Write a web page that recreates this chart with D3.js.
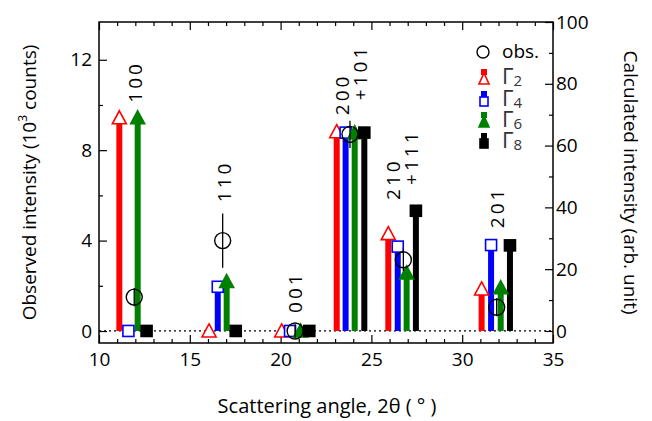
<!DOCTYPE html>
<html><head><meta charset="utf-8">
<script src="https://cdn.jsdelivr.net/npm/d3@7/dist/d3.min.js"></script>
<style>
body{margin:0;background:#fff;}
svg{display:block;}
text{font-family:"Open Sans","Noto Sans",sans-serif;}
</style></head><body>
<svg id="c" width="652" height="421"></svg>
<script>
// ---- data ----
const reflections = ["100","110","001","200+101","210+111","201"];
// bar positions (2θ, deg) per series
const g2x = [11.12, 16.06, 20.06, 23.09, 25.93, 31.07];
const g4x = [11.62, 16.54, 20.52, 23.58, 26.45, 31.59];
const g6x = [12.13, 17.03, 21.10, 24.08, 26.94, 32.12];
const g8x = [12.62, 17.53, 21.58, 24.61, 27.45, 32.63];
// calculated intensities (arb. unit, right axis)
const g2 = [69, 0, 0, 64.5, 31.5, 13.6];
const g4 = [0, 14.3, 0, 64.2, 27.3, 27.8];
const g6 = [69, 16.0, 0, 64.2, 18.8, 14.0];
const g8 = [0, 0, 0, 64.2, 38.9, 27.7];
// observed intensities (10^3 counts, left axis)
const obsX = [11.94, 16.81, 20.80, 23.82, 26.76, 31.90];
const obs = [1.5, 4.0, 0.0, 8.7, 3.15, 1.05];
const obsErr = [0.4, 1.2, 0.3, 0.6, 0.5, 0.4];
// label positions (2θ) and heights (left axis) for reflection labels
const labelX = [12.0, 16.9, 20.8, 23.9, 26.7, 31.9];
const labelY = [10.1, 5.7, 0.8, 9.55, 5.8, 4.55];

const xTicks = [10,15,20,25,30,35];
const yLTicks = [0,4,8,12];
const yRTicks = [0,20,40,60,80,100];

// ---- layout ----
const svg = d3.select("#c");
const L=99, R=553, T=22, B=343;
const x = d3.scaleLinear().domain([10,35]).range([L,R]);
const yL = d3.scaleLinear().domain([-0.53,13.67]).range([B,T]);
const yR = d3.scaleLinear().domain([-3.9,100]).range([B,T]);

const fs = 19;
const ax = svg.append("g");
function ticks(g){ g.selectAll("path").remove(); }
// bottom
ax.append("g").attr("transform",`translate(0,${B})`)
  .call(d3.axisTop(x).tickValues(d3.range(10,36,1)).tickSize(4).tickFormat(""))
  .call(ticks).selectAll("line").attr("stroke","#000").attr("stroke-width",1.2)
  .attr("y2",d=>d%5===0?-8:-4);
ax.append("g").attr("transform",`translate(0,${B})`)
  .call(d3.axisBottom(x).tickValues(xTicks).tickSize(0).tickPadding(10))
  .call(ticks).selectAll("text").attr("font-size",fs).attr("fill","#000")
  .attr("font-family","'Open Sans',sans-serif");
// top
ax.append("g").attr("transform",`translate(0,${T})`)
  .call(d3.axisBottom(x).tickValues(d3.range(10,36,1)).tickSize(4).tickFormat(""))
  .call(ticks).selectAll("line").attr("stroke","#000").attr("stroke-width",1.2)
  .attr("y2",d=>d%5===0?8:4);
// left
ax.append("g").attr("transform",`translate(${L},0)`)
  .call(d3.axisRight(yL).tickValues(d3.range(0,14,2)).tickSize(4).tickFormat(""))
  .call(ticks).selectAll("line").attr("stroke","#000").attr("stroke-width",1.2)
  .attr("x2",d=>d%4===0?8:4);
ax.append("g").attr("transform",`translate(${L},0)`)
  .call(d3.axisLeft(yL).tickValues(yLTicks).tickSize(0).tickPadding(7))
  .call(ticks).selectAll("text").attr("font-size",fs).attr("fill","#000")
  .attr("font-family","'Open Sans',sans-serif");
// right
ax.append("g").attr("transform",`translate(${R},0)`)
  .call(d3.axisLeft(yR).tickValues(d3.range(0,101,10)).tickSize(4).tickFormat(""))
  .call(ticks).selectAll("line").attr("stroke","#000").attr("stroke-width",1.2)
  .attr("x2",d=>d%20===0?-8:-4);
ax.append("g").attr("transform",`translate(${R},0)`)
  .call(d3.axisRight(yR).tickValues(yRTicks).tickSize(0).tickPadding(3))
  .call(ticks).selectAll("text").attr("font-size",fs).attr("fill","#000")
  .attr("font-family","'Open Sans',sans-serif");
// frame
svg.append("rect").attr("x",L).attr("y",T).attr("width",R-L).attr("height",B-T)
  .attr("fill","none").attr("stroke","#000").attr("stroke-width",1.5);

// zero line
svg.append("line").attr("x1",L).attr("x2",R).attr("y1",yR(0)).attr("y2",yR(0))
  .attr("stroke","#000").attr("stroke-width",1.2).attr("stroke-dasharray","2,3");

// series
const series = [
  {xs:g2x, vs:g2, color:"#ff0000", shape:"tri", fill:false},
  {xs:g4x, vs:g4, color:"#0000ff", shape:"sq", fill:false},
  {xs:g6x, vs:g6, color:"#008000", shape:"tri", fill:true},
  {xs:g8x, vs:g8, color:"#000000", shape:"sq", fill:true},
];
function marker(g, cx, cy, s){
  if(s.shape==="tri"){
    g.append("path").attr("d",`M${cx},${cy-7}L${cx+7},${cy+6}L${cx-7},${cy+6}Z`)
      .attr("fill",s.fill?s.color:"#fff").attr("stroke",s.color).attr("stroke-width",1.6);
  } else {
    g.append("rect").attr("x",cx-5.5).attr("y",cy-5.5).attr("width",11).attr("height",11)
      .attr("fill",s.fill?s.color:"#fff").attr("stroke",s.color).attr("stroke-width",1.6);
  }
}
const bars = svg.append("g");
series.forEach(s=>{
  s.vs.forEach((v,i)=>{
    if(v>0){
      bars.append("line").attr("x1",x(s.xs[i])).attr("x2",x(s.xs[i]))
        .attr("y1",yR(0)).attr("y2",yR(v)).attr("stroke",s.color).attr("stroke-width",6);
    }
  });
});
series.forEach(s=>{
  s.vs.forEach((v,i)=> marker(bars, x(s.xs[i]), yR(v), s));
});

// observed
const og = svg.append("g");
obs.forEach((v,i)=>{
  og.append("line").attr("x1",x(obsX[i])).attr("x2",x(obsX[i]))
    .attr("y1",yL(v-obsErr[i])).attr("y2",yL(v+obsErr[i])).attr("stroke","#000").attr("stroke-width",1.3);
  og.append("circle").attr("cx",x(obsX[i])).attr("cy",yL(v)).attr("r",8)
    .attr("fill","none").attr("stroke","#000").attr("stroke-width",1.4);
});

// reflection labels (rotated)
const lg = svg.append("g");
reflections.forEach((r,i)=>{
  const parts = r.split("+");
  const cx = x(labelX[i]), by = yL(labelY[i]);
  const t = lg.append("text").attr("transform",`translate(${cx},${by}) rotate(-90)`)
    .attr("font-size",19).attr("letter-spacing",3).attr("fill","#000")
    .attr("font-family","'DejaVu Sans',sans-serif");
  if(parts.length===1){
    t.append("tspan").attr("x",0).attr("y",7).text(parts[0]);
  } else {
    t.append("tspan").attr("x",0).attr("y",-2).text(parts[0]);
    t.append("tspan").attr("x",15).attr("y",16).text("+"+parts[1]);
  }
});

// legend
const leg = svg.append("g");
leg.append("circle").attr("cx",483).attr("cy",52).attr("r",6).attr("fill","none").attr("stroke","#000").attr("stroke-width",1.4);
leg.append("text").attr("x",502).attr("y",58).attr("font-size",19).attr("fill","#000").text("obs.");
const legNames = ["2","4","6","8"];
const legY = [79,101,122,143];
const lx = 484;
series.forEach((s,i)=>{
  const cy = legY[i];
  leg.append("rect").attr("x",lx-3).attr("y",cy-10).attr("width",6).attr("height",6).attr("fill",s.color);
  if(s.shape==="tri"){
    leg.append("path").attr("d",`M${lx},${cy-6}L${lx+5},${cy+5}L${lx-5},${cy+5}Z`)
      .attr("fill",s.fill?s.color:"#fff").attr("stroke",s.color).attr("stroke-width",1.6);
  } else {
    leg.append("rect").attr("x",lx-4).attr("y",cy-4).attr("width",8).attr("height",9)
      .attr("fill",s.fill?s.color:"#fff").attr("stroke",s.color).attr("stroke-width",1.6);
  }
  const t = leg.append("text").attr("x",502).attr("y",cy+5).attr("font-size",22)
    .attr("font-family","'Liberation Serif','DejaVu Serif',serif").attr("fill","#333");
  t.append("tspan").text("Γ");
  t.append("tspan").attr("font-size",15).attr("dy",2).text(legNames[i]);
});

// axis titles
svg.append("text").attr("transform",`translate(36,${(T+B)/2}) rotate(-90)`)
  .attr("text-anchor","middle").attr("font-size",19).attr("fill","#000")
  .call(t=>{ t.append("tspan").text("Observed intensity (10");
             t.append("tspan").attr("font-size",12).attr("dy",-9).text("3");
             t.append("tspan").attr("dy",9).text(" counts)"); });
svg.append("text").attr("transform",`translate(624,${(T+B)/2}) rotate(90)`)
  .attr("text-anchor","middle").attr("font-size",19).attr("fill","#000")
  .text("Calculated intensity (arb. unit)");
svg.append("text").attr("x",327).attr("y",413).attr("text-anchor","middle")
  .attr("font-size",20).attr("fill","#000").text("Scattering angle, 2θ ( ° )");
</script>
</body></html>
